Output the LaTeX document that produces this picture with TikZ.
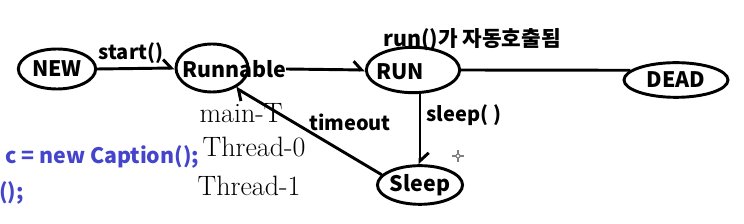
\documentclass[tikz,border=0pt]{standalone}
\usepackage{fontspec}
\newfontfamily\krfont{Noto Sans CJK KR}
\usetikzlibrary{arrows.meta,shapes.geometric,positioning}
\definecolor{codeblue}{RGB}{68,68,204}

\begin{document}
\begin{tikzpicture}[x=0.75pt, y=0.75pt,
    state/.style={draw, ellipse, line width=2.2pt, inner sep=0pt, font=\krfont\bfseries\fontsize{16}{18}\selectfont},
    stxt/.style={inner sep=0pt, font=\krfont\bfseries\fontsize{16}{18}\selectfont},
    lbl/.style={inner sep=0pt, font=\krfont\bfseries\fontsize{15}{18}\selectfont},
    hand/.style={inner sep=0pt, font=\fontsize{21}{24}\selectfont},
    code/.style={inner sep=0pt, anchor=west, text=codeblue, font=\krfont\bfseries\fontsize{16}{18}\selectfont},
    arr/.style={line width=2.2pt, -{Straight Barb[harpoon, length=6pt, width=13pt, line width=2.2pt]}},
    edge/.style={line width=2.2pt}
]
\useasboundingbox (0,0) rectangle (744,224);

% states
\node[state, minimum width=58pt, minimum height=30pt] (new) at (57,155) {NEW};
\node[state, minimum width=54pt, minimum height=36pt] (runnable) at (212,156) {};
\node[stxt] (runnabletxt) at (234,155) {Runnable};
\node[state, minimum width=70pt, minimum height=34pt] (run) at (413,154) {};
\node[stxt] (runtxt) at (400,152) {RUN};
\node[state, minimum width=78pt, minimum height=26pt] (dead) at (676,144) {DEAD};
\node[state, minimum width=61pt, minimum height=29pt] (sleep) at (420,39) {Sleep};

% labels
\node[lbl] (startlbl) at (131,171) {start()};
\node[lbl, font=\krfont\bfseries\fontsize{16}{18}\selectfont] (autorun) at (472,184) {run()가 자동호출됨};
\node[lbl] (sleeplbl) at (464,109) {sleep( )};
\node[lbl] (timeout) at (350,102) {timeout};

% handwritten thread names
\node[hand] (mainT) at (241,111) {main-T};
\node[hand] (thread0) at (254,77) {Thread-0};
\node[hand] (thread1) at (249,38) {Thread-1};

% code behind
\node[code] (code1) at (5,67) {c = new Caption();};
\node[code] (code2) at (-1,31) {();};

% transitions
\draw[arr] (new.east) -- (runnable.west);
\draw[arr] (runnabletxt.east) -- (run.west);
\draw[edge] (run.east) -- (dead.168);
\draw[arr] (sleep.north |- run.south) -- (sleep.north);
\draw[arr] (sleep.165) -- (runnable.-40);

% mouse cursor
\draw[gray, line width=0.8pt] (452,68) -- (464,68) (458,62) -- (458,74);
\draw[gray, line width=0.8pt, fill=white] (458,68) circle (2);
\end{tikzpicture}
\end{document}
